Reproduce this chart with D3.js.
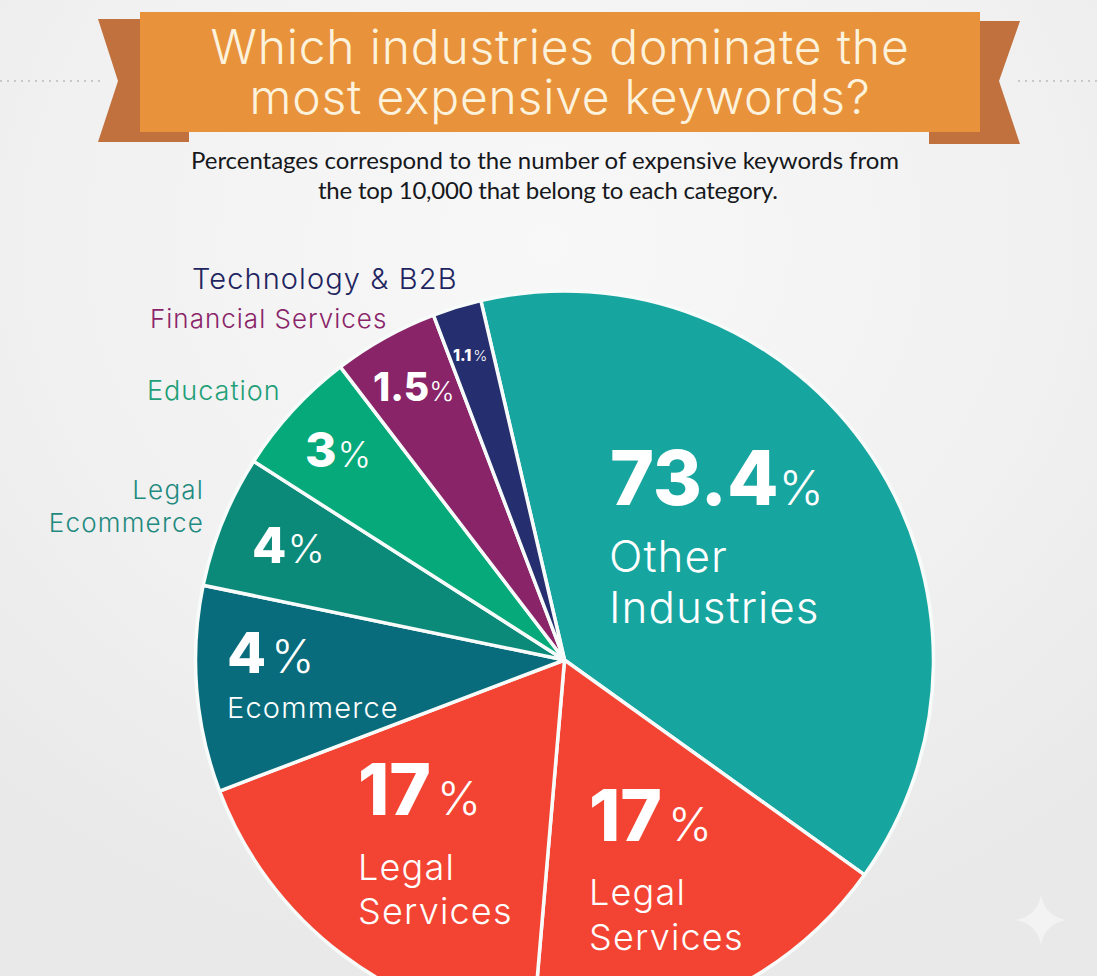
<!DOCTYPE html>
<html>
<head>
<meta charset="utf-8">
<script src="https://cdn.jsdelivr.net/npm/d3@7"></script>
<style>
  html, body { margin: 0; padding: 0; background: #eeeeee; overflow: hidden; }
  text { font-family: "Inter", sans-serif; }
  text.subtitle { font-family: "Lato", sans-serif; }
</style>
</head>
<body>
<div id="chart"></div>
<script>
const categories = ["Other Industries", "Legal Services", "Legal Services", "Ecommerce", "Legal Ecommerce", "Education", "Financial Services", "Technology & B2B"];
// printed numbers, these do not match the drawn slice sizes in the picture
const printedValues = ["73.4", "17", "17", "4", "4", "3", "1.5", "1.1"];
// slice size, in degrees of the circle
const sliceSizes = [138.7, 59.3, 64.3, 32.5, 20.9, 20, 16.6, 7.7];
const sliceColors = ["#17a5a0", "#f34433", "#f34433", "#086c7c", "#0b8a79", "#06a97a", "#8a2468", "#252e6e"];
const titleLines = ["Which industries dominate the", "most expensive keywords?"];
const subtitleLines = ["Percentages correspond to the number of expensive keywords from", "the top 10,000 that belong to each category."];

const width = 1097;
const height = 976;
const cx = 564.5;
const cy = 660;
const radius = 369;

const svg = d3.select("#chart").append("svg")
  .attr("width", width)
  .attr("height", height)
  .style("display", "block");

const defs = svg.append("defs");
const bg = defs.append("radialGradient").attr("id", "bg")
  .attr("cx", "50%").attr("cy", "25%").attr("r", "75%");
bg.append("stop").attr("offset", "0%").attr("stop-color", "#f8f8f8");
bg.append("stop").attr("offset", "60%").attr("stop-color", "#f1f1f1");
bg.append("stop").attr("offset", "100%").attr("stop-color", "#e9e9e9");

svg.append("rect")
  .attr("width", width)
  .attr("height", height)
  .attr("fill", "url(#bg)");

// dotted rules behind the ribbon
svg.selectAll("line.rule")
  .data([[0, 100], [1018, 1097]])
  .enter().append("line")
  .attr("class", "rule")
  .attr("x1", d => d[0])
  .attr("x2", d => d[1])
  .attr("y1", 81)
  .attr("y2", 81)
  .attr("stroke", "#c8c8c8")
  .attr("stroke-width", 2)
  .attr("stroke-dasharray", "2 5");

// ribbon
const line = d3.line();
svg.append("path")
  .attr("d", line([[98, 19], [142, 19], [142, 132], [189, 132], [189, 142], [98, 142], [118, 81]]) + "Z")
  .attr("fill", "#c1713d");
svg.append("path")
  .attr("d", line([[978, 21], [1020, 21], [999, 81], [1020, 144], [929, 144], [929, 132], [978, 132]]) + "Z")
  .attr("fill", "#c1713d");
svg.append("rect")
  .attr("x", 140)
  .attr("y", 12)
  .attr("width", 840)
  .attr("height", 120)
  .attr("fill", "#e8923c");

svg.selectAll("text.title")
  .data(titleLines)
  .enter().append("text")
  .attr("class", "title")
  .attr("x", 560)
  .attr("y", (d, i) => 64 + i * 50)
  .attr("text-anchor", "middle")
  .attr("font-size", 48)
  .attr("letter-spacing", 0.8)
  .attr("font-weight", 300)
  .attr("fill", "#fdf2dc")
  .text(d => d);

svg.selectAll("text.subtitle")
  .data(subtitleLines)
  .enter().append("text")
  .attr("class", "subtitle")
  .attr("x", (d, i) => i === 0 ? 545 : 548)
  .attr("y", (d, i) => 169 + i * 30)
  .attr("text-anchor", "middle")
  .attr("textLength", (d, i) => i === 0 ? 708 : 460)
  .attr("font-size", 24)
  .attr("fill", "#16181c")
  .text(d => d);

// pie
const pie = d3.pie().sort(null).value(d => d)
  .startAngle(-13.1 * Math.PI / 180)
  .endAngle(346.9 * Math.PI / 180);
const arc = d3.arc().innerRadius(0).outerRadius(radius);

const g = svg.append("g")
  .attr("transform", "translate(" + cx + "," + cy + ")");

g.selectAll("path")
  .data(pie(sliceSizes))
  .enter().append("path")
  .attr("d", arc)
  .attr("fill", (d, i) => sliceColors[i])
  .attr("stroke", "#f7fbf9")
  .attr("stroke-width", 3.5)
  .attr("stroke-linejoin", "round");

// label layout, page coordinates of each slice's text
const numberLayout = [
  {x: 610, y: 505, size: 75, pct: 48, gap: 0},
  {x: 358, y: 815, size: 71, pct: 47, gap: 6},
  {x: 589, y: 841, size: 71, pct: 47, gap: 6},
  {x: 227, y: 673, size: 57, pct: 46, gap: 5},
  {x: 252, y: 563, size: 50, pct: 40, gap: 1},
  {x: 305, y: 467, size: 48, pct: 36, gap: 1},
  {x: 373, y: 401, size: 39, pct: 27, gap: 0},
  {x: 453, y: 361, size: 16, pct: 15, gap: 2}
];

const numbers = svg.selectAll("text.num")
  .data(printedValues)
  .enter().append("text")
  .attr("class", "num")
  .attr("x", (d, i) => numberLayout[i].x)
  .attr("y", (d, i) => numberLayout[i].y)
  .attr("fill", "#ffffff");
numbers.append("tspan")
  .attr("font-weight", 800)
  .attr("font-size", (d, i) => numberLayout[i].size)
  .text(d => d);
numbers.append("tspan")
  .attr("font-weight", 300)
  .attr("dx", (d, i) => numberLayout[i].gap)
  .attr("font-size", (d, i) => numberLayout[i].pct)
  .text("%");

// names written inside the slices
const insideLabels = [
  {i: 0, lines: ["Other", "Industries"], x: 609, y: 572, step: 51, size: 44, spacing: 1},
  {i: 1, lines: ["Legal", "Services"], x: 358, y: 880, step: 44, size: 36, spacing: 1.2},
  {i: 2, lines: ["Legal", "Services"], x: 589, y: 905, step: 45, size: 36, spacing: 1.2},
  {i: 3, lines: ["Ecommerce"], x: 227, y: 718, step: 0, size: 29, spacing: 1.2}
];
insideLabels.forEach(l => {
  svg.selectAll(null)
    .data(l.lines)
    .enter().append("text")
    .attr("x", l.x)
    .attr("y", (d, j) => l.y + j * l.step)
    .attr("font-size", l.size)
    .attr("letter-spacing", l.spacing)
    .attr("font-weight", 300)
    .attr("fill", "#ffffff")
    .text(d => d);
});

// names written outside the pie
const outsideLabels = [
  {text: "Technology & B2B", x: 192, y: 289, size: 29, spacing: 1.1, color: "#1f2560", anchor: "start"},
  {text: "Financial Services", x: 150, y: 328, size: 26, spacing: 1, color: "#8a2468", anchor: "start"},
  {text: "Education", x: 147, y: 400, size: 27, spacing: 1, color: "#1f9f78", anchor: "start"},
  {text: "Legal", x: 204, y: 499, size: 26, spacing: 1.2, color: "#1f8a80", anchor: "end"},
  {text: "Ecommerce", x: 204, y: 532, size: 26, spacing: 1.2, color: "#1f8a80", anchor: "end"}
];
svg.selectAll("text.outside")
  .data(outsideLabels)
  .enter().append("text")
  .attr("class", "outside")
  .attr("x", d => d.x)
  .attr("y", d => d.y)
  .attr("font-size", d => d.size)
  .attr("letter-spacing", d => d.spacing)
  .attr("font-weight", 300)
  .attr("fill", d => d.color)
  .attr("text-anchor", d => d.anchor)
  .text(d => d.text);

// faint sparkle, bottom right
svg.append("path")
  .attr("d", "M1041,895Q1045,916 1066,920Q1045,924 1041,945Q1037,924 1016,920Q1037,916 1041,895Z")
  .attr("fill", "#f3f3f3");
</script>
</body>
</html>
